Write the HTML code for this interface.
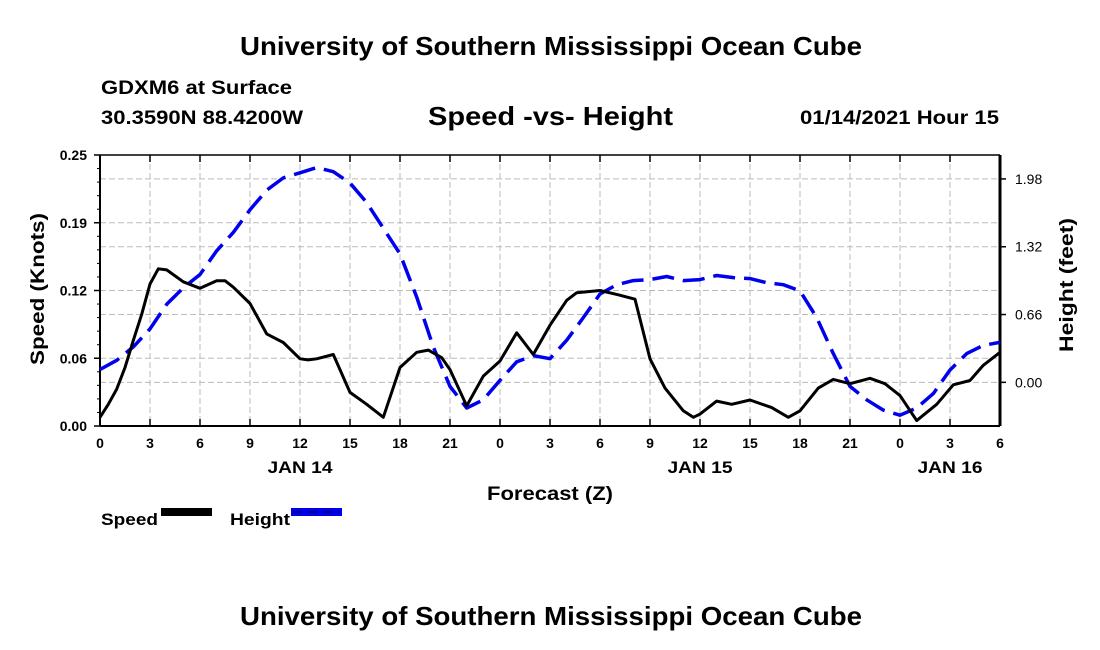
<!DOCTYPE html>
<html><head><meta charset="utf-8"><style>
body{margin:0;background:#fff;}
svg{display:block;font-family:"Liberation Sans",Arial,sans-serif;}
.b{font-weight:bold;fill:#000;}
</style></head><body>
<svg id="chart" width="1100" height="650" viewBox="0 0 1100 650">
<rect width="1100" height="650" fill="#fff"/>
<text class="b" x="240" y="55" font-size="26" textLength="622" lengthAdjust="spacingAndGlyphs">University of Southern Mississippi Ocean Cube</text>
<text class="b" x="101" y="94" font-size="19" textLength="191" lengthAdjust="spacingAndGlyphs">GDXM6 at Surface</text>
<text class="b" x="101" y="124" font-size="19" textLength="202" lengthAdjust="spacingAndGlyphs">30.3590N 88.4200W</text>
<text class="b" x="428" y="125" font-size="26" textLength="245" lengthAdjust="spacingAndGlyphs">Speed -vs- Height</text>
<text class="b" x="800" y="124" font-size="19" textLength="199" lengthAdjust="spacingAndGlyphs">01/14/2021 Hour 15</text>
<g id="grid"></g>
<g id="axes"></g>
<g id="series"></g>
<text class="b" transform="translate(44,289) rotate(-90)" text-anchor="middle" font-size="19" textLength="152" lengthAdjust="spacingAndGlyphs">Speed (Knots)</text>
<text class="b" transform="translate(1073,285) rotate(-90)" text-anchor="middle" font-size="19" textLength="134" lengthAdjust="spacingAndGlyphs">Height (feet)</text>
<text class="b" x="487" y="500" font-size="19" textLength="126" lengthAdjust="spacingAndGlyphs">Forecast (Z)</text>
<g>
<text class="b" x="101" y="525" font-size="17" textLength="57" lengthAdjust="spacingAndGlyphs">Speed</text>
<rect x="161" y="508" width="51" height="8" fill="#000"/>
<text class="b" x="230" y="525" font-size="17" textLength="60" lengthAdjust="spacingAndGlyphs">Height</text>
<rect x="291" y="508" width="51" height="8" fill="#0000ee"/>
<line x1="293" y1="512" x2="340" y2="512" stroke="#000080" stroke-width="2" stroke-dasharray="10,5"/>
</g>
<text class="b" x="240" y="625" font-size="26" textLength="622" lengthAdjust="spacingAndGlyphs">University of Southern Mississippi Ocean Cube</text>
</svg>
<script>
const speedHours=[0,0.5,1,1.5,2,2.5,3,3.5,4,5,6,7,7.5,8,9,10,11,12,12.5,13,14,15,16,17,18,19,19.7,20.5,21,22,23,24,25,26,27,28,28.6,30,31.1,32.1,33,33.9,35,35.6,36,37,37.9,39,40.3,41.3,42,43.1,44,45,46.2,47.1,48,49,50.2,51.2,52.2,53,54];
const speedValues=[0.008,0.02,0.034,0.054,0.079,0.103,0.131,0.145,0.144,0.133,0.127,0.134,0.134,0.128,0.113,0.085,0.077,0.062,0.061,0.062,0.066,0.031,0.02,0.008,0.054,0.068,0.07,0.063,0.052,0.0185,0.046,0.06,0.086,0.066,0.093,0.116,0.123,0.125,0.121,0.117,0.062,0.035,0.014,0.008,0.011,0.023,0.02,0.024,0.017,0.008,0.014,0.035,0.043,0.039,0.044,0.039,0.028,0.005,0.02,0.038,0.042,0.056,0.068];
const heightHours=[0,1,2,3,4,5,6,7,8,9,10,11,12,13,14,15,16,17,18,19,20,21,22,23,24,25,26,27,28,29,30,31,32,33,34,35,36,37,38,39,40,41,42,43,44,45,46,47,48,49,50,51,52,53,54];
const heightValues=[0.125,0.215,0.345,0.52,0.76,0.92,1.05,1.28,1.46,1.68,1.87,1.99,2.04,2.09,2.05,1.94,1.75,1.5,1.25,0.83,0.345,-0.04,-0.25,-0.17,0.02,0.2,0.26,0.23,0.41,0.63,0.86,0.95,0.99,1.0,1.03,0.99,1.0,1.04,1.02,1.01,0.97,0.95,0.89,0.63,0.28,-0.04,-0.17,-0.27,-0.32,-0.25,-0.11,0.12,0.28,0.36,0.39];
const xTickLabels=["0","3","6","9","12","15","18","21","0","3","6","9","12","15","18","21","0","3","6"];
const leftTicks=[0,0.0625,0.125,0.1875,0.25];
const leftTickLabels=["0.00","0.06","0.12","0.19","0.25"];
const rightTicks=[0,0.66,1.32,1.98];
const rightTickLabels=["0.00","0.66","1.32","1.98"];
const dayLabels=["JAN 14","JAN 15","JAN 16"];
const dayHours=[12,36,51];

const L=100,R=1000,T=155,B=426;
const xS=h=>L+(R-L)*h/54;
const yL=v=>B-(B-T)*v/0.25;
const hMin=-0.425,hMax=2.213;
const yR=v=>B-(B-T)*(v-hMin)/(hMax-hMin);
const NS="http://www.w3.org/2000/svg";
function mk(tag,attrs,parent){const e=document.createElementNS(NS,tag);for(const k in attrs)e.setAttribute(k,attrs[k]);parent.appendChild(e);return e;}
const grid=document.getElementById('grid'),axes=document.getElementById('axes'),series=document.getElementById('series');
xTickLabels.forEach((t,i)=>{const x=xS(i*3);
 if(i>0&&i<xTickLabels.length-1){const g=mk('line',{x1:x,x2:x,y1:T,y2:B,stroke:'#bbb','stroke-dasharray':'6,3'},grid);
 
 }
 const tk=mk('line',{x1:x,x2:x,y1:T,y2:T+7,stroke:'#000','stroke-width':1.5},axes);
 
 
 const tk2=mk('line',{x1:x,x2:x,y1:B,y2:B-7,stroke:'#000','stroke-width':1.5},axes);
 
 
 const tx=mk('text',{x:x,y:448,'text-anchor':'middle','font-size':14,class:'b'},axes);tx.textContent=t;
 
 
});
leftTicks.forEach((v,i)=>{const y=yL(v);
 if(i>0&&i<leftTicks.length-1){const g=mk('line',{x1:L,x2:R,y1:y,y2:y,stroke:'#bbb','stroke-dasharray':'6,3'},grid);
 
 }
 const tk=mk('line',{x1:L-6,x2:L,y1:y,y2:y,stroke:'#000','stroke-width':1.5},axes);
 
 
 const tx=mk('text',{x:L-13,y:y+5,'text-anchor':'end','font-size':14,class:'b'},axes);tx.textContent=leftTickLabels[i];
 
 
});
for(let v=0;v<=0.25001;v+=0.0125){const y=yL(v);const m=mk('line',{x1:L-3,x2:L,y1:y,y2:y,stroke:'#000'},axes);
 
 }
rightTicks.forEach((v,i)=>{const y=yR(v);
 const g=mk('line',{x1:L,x2:R,y1:y,y2:y,stroke:'#bbb','stroke-dasharray':'6,3'},grid);
 
 
 const tk=mk('line',{x1:R,x2:R+6,y1:y,y2:y,stroke:'#000','stroke-width':1.5},axes);
 
 
 const tx=mk('text',{x:1015,y:y+5,'font-size':14,fill:'#000'},axes);tx.textContent=rightTickLabels[i];
 
 
});
dayLabels.forEach((d,i)=>{const tx=mk('text',{x:xS(dayHours[i]),y:473,'text-anchor':'middle','font-size':17,class:'b',textLength:65,lengthAdjust:'spacingAndGlyphs'},axes);tx.textContent=d;
 
 });
const frame=[[L,T,R,T,1.5],[L,B,R,B,2],[L,T,L,B,2],[R,T,R,B,3]];
frame.forEach(f=>{const l=mk('line',{x1:f[0],y1:f[1],x2:f[2],y2:f[3],stroke:'#000','stroke-width':f[4]},axes);
 
 });
const hp=heightHours.map((h,i)=>xS(h).toFixed(1)+','+yR(heightValues[i]).toFixed(1)).join(' ');
const hl=mk('polyline',{points:hp,fill:'none',stroke:'#0000ee','stroke-width':3.5,'stroke-dasharray':'22,9','stroke-linejoin':'round'},series);


const sp=speedHours.map((h,i)=>xS(h).toFixed(1)+','+yL(speedValues[i]).toFixed(1)).join(' ');
const sl=mk('polyline',{points:sp,fill:'none',stroke:'#000','stroke-width':3,'stroke-linejoin':'round'},series);


</script>
</body></html>
